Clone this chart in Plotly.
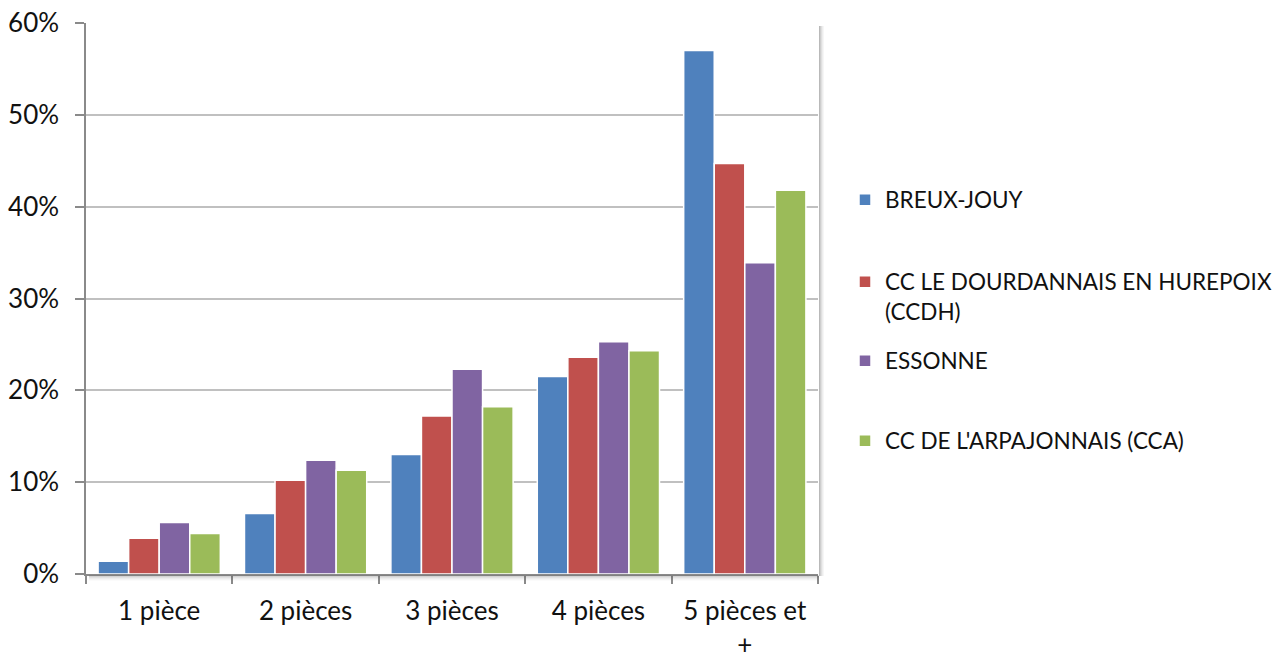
import plotly.graph_objects as go

categories = ["1 pièce", "2 pièces", "3 pièces", "4 pièces", "5 pièces et<br>+"]
series_names = ["BREUX-JOUY", "CC LE DOURDANNAIS EN HUREPOIX<br>(CCDH)", "ESSONNE", "CC DE L'ARPAJONNAIS (CCA)"]
breux_jouy = [0.014, 0.066, 0.130, 0.215, 0.570]
ccdh = [0.039, 0.102, 0.172, 0.236, 0.447]
essonne = [0.056, 0.124, 0.223, 0.253, 0.339]
cca = [0.044, 0.113, 0.182, 0.243, 0.418]
series_values = [breux_jouy, ccdh, essonne, cca]
colors = ["#4F81BD", "#C0504D", "#8064A2", "#9BBB59"]
y_ticks = [0, 0.1, 0.2, 0.3, 0.4, 0.5, 0.6]

FONT = "Lato"
AX_SIZE = 26
LEG_SIZE = 22.5
W, H = 1273, 655
L, R, T, B = 86, 455, 23, 81
pw, ph = W - L - R, H - T - B

legend_py = [200, 296.5, 361, 441]

fig = go.Figure()
for i, (name, vals, col) in enumerate(zip(series_names, series_values, colors)):
    fig.add_trace(go.Bar(
        x=categories, y=vals, name=name,
        marker=dict(color=col, line=dict(color="white", width=1.5)),
        legend="legend" if i == 0 else f"legend{i+1}",
    ))

legends = {}
for i, py in enumerate(legend_py):
    key = "legend" if i == 0 else f"legend{i+1}"
    legends[key] = dict(
        x=(845 - L) / pw, xanchor="left",
        y=(H - B - py) / ph, yanchor="middle",
        valign="top", bgcolor="rgba(0,0,0,0)",
        font=dict(family=FONT, size=LEG_SIZE, color="#111111"),
        itemclick=False, itemdoubleclick=False,
    )

# subtle drop shadow of the plot area (Excel style)
shapes = []
for k, op in enumerate([0.40, 0.28, 0.18, 0.10, 0.05]):
    shapes.append(dict(type="line", xref="paper", yref="paper",
                       x0=1 + (1.5 + k) / pw, x1=1 + (1.5 + k) / pw,
                       y0=-2 / ph, y1=1 - 3 / ph,
                       line=dict(color=f"rgba(80,80,80,{op})", width=1)))
    shapes.append(dict(type="line", xref="paper", yref="paper",
                       x0=3 / pw, x1=1 + 1 / pw,
                       y0=-(2 + k) / ph, y1=-(2 + k) / ph,
                       line=dict(color=f"rgba(80,80,80,{op*0.8})", width=1)))

fig.update_layout(
    width=W, height=H,
    margin=dict(l=L, r=R, t=T, b=B, autoexpand=False),
    paper_bgcolor="white", plot_bgcolor="white",
    barmode="group", bargap=0.165, bargroupgap=0,
    font=dict(family=FONT, size=AX_SIZE, color="#111111"),
    showlegend=True,
    shapes=shapes,
    **legends,
)
fig.update_yaxes(
    range=[0, 0.6], tickvals=y_ticks, tickformat=".0%",
    showgrid=True, gridcolor="#C0C0C0", gridwidth=1.6,
    showline=True, linecolor="#8A8A8A", linewidth=1.5,
    ticks="outside", ticklen=9, tickcolor="#8A8A8A", tickwidth=1.5,
    ticklabelstandoff=11, automargin=False,
    tickfont=dict(family=FONT, size=AX_SIZE, color="#111111"),
    zeroline=False,
)
fig.update_xaxes(
    showline=True, linecolor="#8A8A8A", linewidth=1.5,
    ticks="outside", tickson="boundaries", ticklen=8, tickcolor="#8A8A8A", tickwidth=1.5,
    ticklabelstandoff=13, automargin=False,
    tickfont=dict(family=FONT, size=AX_SIZE, color="#111111"),
)

fig.write_html("out.html")
